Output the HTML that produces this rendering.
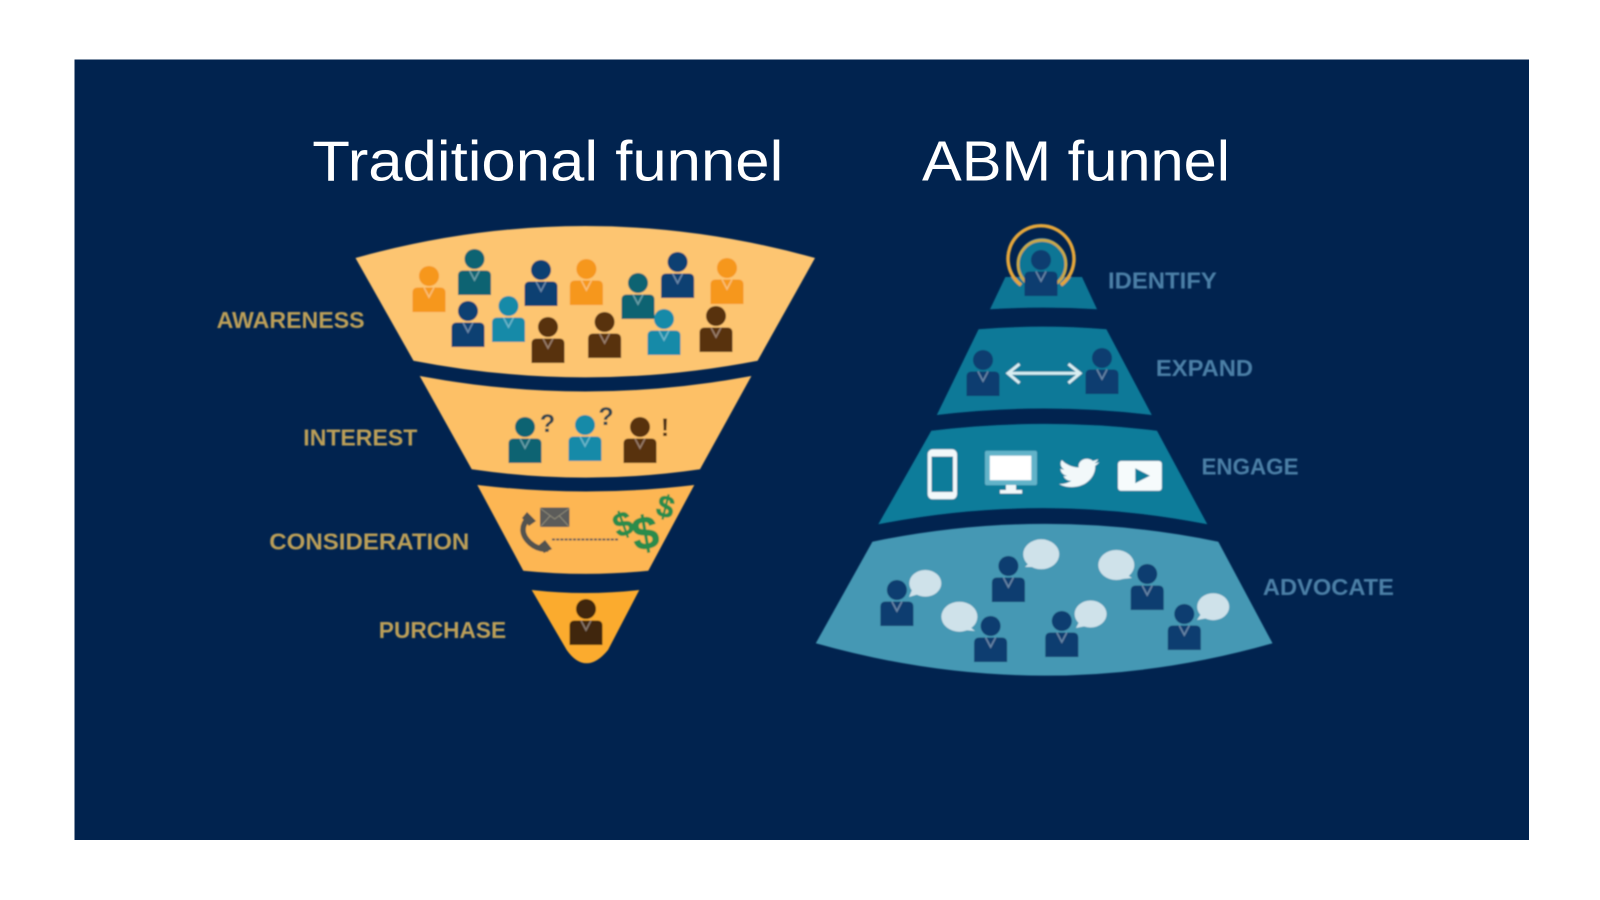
<!DOCTYPE html>
<html><head><meta charset="utf-8"><title>Traditional funnel vs ABM funnel</title>
<style>html,body{margin:0;padding:0;background:#fff;width:1600px;height:900px;overflow:hidden}svg{display:block}
.l{font-family:"Liberation Sans",sans-serif;font-weight:700;font-size:23.5px}
.o{fill:#bb9f58}.b{fill:#4b7fa6}
.t{font-family:"Liberation Sans",sans-serif;font-size:57px;fill:#fff}</style></head>
<body>
<svg width="1600" height="900" viewBox="0 0 1600 900" xmlns="http://www.w3.org/2000/svg">
<defs>
<filter id="s" x="0" y="0" width="1600" height="900" filterUnits="userSpaceOnUse"><feGaussianBlur stdDeviation="0.7"/></filter>
<g id="p">
<circle cx="0" cy="0" r="10" fill="currentColor"/>
<path d="M-16.5 36V17Q-16.5 11.500 -11 11.500H11Q16.500 11.500 16.500 17V36Z" fill="currentColor"/>
<path d="M-5 11.500L0 21L5 11.500" fill="none" stroke="#fff" stroke-opacity=".38" stroke-width="1.600"/>
</g>
</defs>
<rect width="1600" height="900" fill="#fff"/>
<rect x="74.500" y="59.500" width="1454.500" height="780.500" fill="#01234f"/>
<g filter="url(#s)">
<!-- traditional funnel -->
<path d="M355.500 258Q585 194 815 258L757.600 360.700Q585 394 413.500 360.700Z" fill="#fdc571"/>
<path d="M419.700 376Q585 407 751.400 376L700 469.300Q586 486 471.700 469.300Z" fill="#fdc066"/>
<path d="M477.300 485Q586 498 694.300 485L648.300 570.700Q586 577 523.300 570.700Z" fill="#fdb653"/>
<path d="M531.700 590Q585 596 639.300 590L608 650Q597 663.300 586.700 663.300Q576 663.300 566.700 650Z" fill="#fbab2f"/>

<g style="color:#f6971f">
<use href="#p" x="429" y="276"/><use href="#p" x="586.400" y="269"/><use href="#p" x="727" y="268"/>
</g>
<g style="color:#0c6472">
<use href="#p" x="474.500" y="259"/><use href="#p" x="638" y="283"/>
</g>
<g style="color:#0e3f72">
<use href="#p" x="541" y="270"/><use href="#p" x="677.600" y="262"/><use href="#p" x="468" y="311"/>
</g>
<g style="color:#128aa8">
<use href="#p" x="508.500" y="306"/><use href="#p" x="664" y="319"/>
</g>
<g style="color:#59300f">
<use href="#p" x="548" y="327"/><use href="#p" x="604.600" y="322"/><use href="#p" x="716" y="316"/>
</g>

<use href="#p" x="525" y="427" style="color:#0c6472"/>
<use href="#p" x="585" y="425" style="color:#128aa8"/>
<use href="#p" x="640" y="427" style="color:#59300f"/>
<g font-family="Liberation Sans, sans-serif" font-weight="700" font-size="25" fill="#2e4450">
<text x="547.500" y="432" text-anchor="middle">?</text>
<text x="606" y="425" text-anchor="middle">?</text>
<text x="665" y="436" text-anchor="middle" fill="#4b2d14">!</text>
</g>

<rect x="540" y="507.500" width="29.500" height="19.500" rx="1.500" fill="#5c5c5a"/>
<path d="M540.500 508.500L554.700 519L569 508.500M541 526L550 516M568.500 526L559.500 516" fill="none" stroke="#8f8a78" stroke-width="1"/>
<path d="M530 516Q516 530 530 543Q538 550 548 549" fill="none" stroke="#535350" stroke-width="5.500"/>
<path d="M527 512L536 521L529 526L522 518ZM545 540L552 549L544 553L538 546Z" fill="#535350"/>
<line x1="552" y1="539.500" x2="619" y2="539.500" stroke="#5c5c5a" stroke-width="2" stroke-dasharray="3 1.200"/>
<g font-family="Liberation Sans, sans-serif" font-weight="700" fill="#2c8c4c" stroke="#2c8c4c" stroke-width=".6" text-anchor="middle">
<text transform="translate(627,535) rotate(-20)" font-size="34">$</text>
<text transform="translate(648,549) rotate(-10)" font-size="47">$</text>
<text transform="translate(663,517) rotate(14)" font-size="31">$</text>
</g>

<use href="#p" x="586" y="609" style="color:#3f2510"/>

<g class="l o">
<text x="216.600" y="328" textLength="148" lengthAdjust="spacingAndGlyphs">AWARENESS</text>
<text x="303.300" y="445.500" textLength="114" lengthAdjust="spacingAndGlyphs">INTEREST</text>
<text x="269.300" y="549.500" textLength="200" lengthAdjust="spacingAndGlyphs">CONSIDERATION</text>
<text x="378.800" y="638" textLength="127.400" lengthAdjust="spacingAndGlyphs">PURCHASE</text>
</g>

<!-- ABM funnel -->
<path d="M1005.400 277H1082L1097 309.300Q1043 306 990 309.300Z" fill="#0c7695"/>
<circle cx="1041.800" cy="262" r="24" fill="#0c7695"/>
<path d="M1021 285A33 33 0 1 1 1061 285" fill="none" stroke="#e3a63b" stroke-width="3.500"/>
<path d="M1027 283A24 24 0 1 1 1057 283" fill="none" stroke="#c9a84a" stroke-width="3"/>
<use href="#p" x="1041" y="260" style="color:#0c3c70"/>

<path d="M978.600 329.300Q1042 324 1106.400 329.300L1151.800 415Q1044 402 936.800 415Z" fill="#0d7998"/>
<use href="#p" x="983" y="360" style="color:#0c3c70"/>
<use href="#p" x="1102" y="358" style="color:#0c3c70"/>
<path d="M1008 373.300H1080M1019.500 364L1008 373.300L1019.500 383M1068.500 364L1080 373.300L1068.500 383" fill="none" stroke="#d9eef2" stroke-width="3"/>

<path d="M931.300 430.700Q1045 417 1157 430.700L1207.300 524.300Q1043 492 878.300 524.300Z" fill="#0c7c9a"/>
<rect x="927.700" y="449.300" width="29.300" height="50" rx="5" fill="#f2f8fa"/>
<rect x="931.500" y="456.500" width="21.500" height="35.500" fill="#0c7c9a"/>
<rect x="985" y="450.700" width="52" height="34.500" rx="2" fill="#62b3c9"/>
<rect x="989.800" y="455.700" width="41.500" height="24.500" fill="#fff"/>
<path d="M1006 485H1016V490H1022V493.500H1000V490H1006Z" fill="#f2f8fa"/>
<path transform="translate(1059,455.500) scale(1.680,1.450)" fill="#f2f8fa" d="M23.950 4.570a10 10 0 0 1-2.820.77 4.960 4.960 0 0 0 2.160-2.720c-.95.55-2 .95-3.120 1.180a4.920 4.920 0 0 0-8.380 4.480C7.690 8.100 4.070 6.130 1.640 3.160a4.820 4.820 0 0 0-.67 2.480c0 1.710.87 3.210 2.190 4.100a4.900 4.900 0 0 1-2.230-.61v.06c0 2.390 1.700 4.380 3.950 4.830a5 5 0 0 1-2.210.08 4.940 4.940 0 0 0 4.600 3.420A9.870 9.870 0 0 1 0 19.540a13.940 13.940 0 0 0 7.550 2.210c9.060 0 14-7.500 14-13.980 0-.21 0-.42-.02-.63a9.940 9.940 0 0 0 2.460-2.550z"/>
<rect x="1118" y="461" width="43.800" height="29.700" rx="3" fill="#f6fbfc"/>
<path d="M1135.300 468.300V483.300L1150 475.700Z" fill="#0c7c9a"/>

<path d="M872.400 541.700Q1045 506 1218.300 541.700L1272.500 643.300Q1045 708 815.800 643.300Z" fill="#4498b4"/>
<g fill="#cfe2ea">
<ellipse cx="925.300" cy="583.300" rx="16" ry="13.300"/><path d="M912 590L909 597L919 594Z"/>
<ellipse cx="1041.200" cy="554.300" rx="18" ry="15"/><path d="M1029 563L1025 567L1035 567Z"/>
<ellipse cx="1116.300" cy="565" rx="18" ry="15"/><path d="M1126 574L1132 578L1122 579Z"/>
<ellipse cx="959.400" cy="616.700" rx="18" ry="15"/><path d="M969 626L975 631L964 630Z"/>
<ellipse cx="1090.600" cy="614" rx="16" ry="13.500"/><path d="M1079 622L1076 628L1086 626Z"/>
<ellipse cx="1213.200" cy="606.700" rx="16" ry="13.500"/><path d="M1201 614L1197 620L1208 618Z"/>
</g>
<g style="color:#0c3c70">
<use href="#p" x="896.900" y="590"/><use href="#p" x="1008.400" y="566"/><use href="#p" x="1147.200" y="574"/>
<use href="#p" x="990.600" y="626"/><use href="#p" x="1061.800" y="621"/><use href="#p" x="1184.300" y="614"/>
</g>

<g class="l b">
<text x="1108" y="288.500" textLength="108.800" lengthAdjust="spacingAndGlyphs">IDENTIFY</text>
<text x="1155.900" y="376" textLength="97.200" lengthAdjust="spacingAndGlyphs">EXPAND</text>
<text x="1201.500" y="474.500" textLength="97" lengthAdjust="spacingAndGlyphs">ENGAGE</text>
<text x="1262.900" y="595" textLength="131" lengthAdjust="spacingAndGlyphs">ADVOCATE</text>
</g>
</g>
<text class="t" x="312.300" y="180.700" textLength="471" lengthAdjust="spacingAndGlyphs">Traditional funnel</text>
<text class="t" x="922" y="180.700" textLength="308" lengthAdjust="spacingAndGlyphs">ABM funnel</text>
</svg>
</body></html>
